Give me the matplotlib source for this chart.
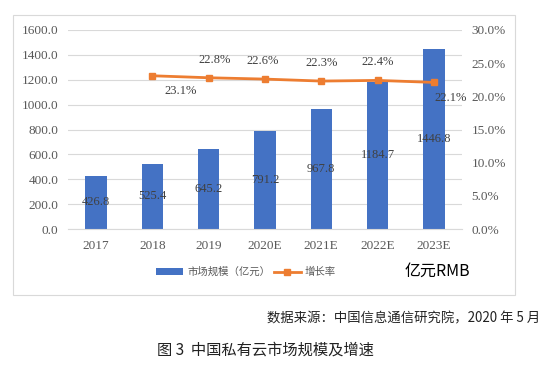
import matplotlib
matplotlib.use('Agg')
import matplotlib.pyplot as plt
from matplotlib.patches import Rectangle
from matplotlib.ticker import FuncFormatter, MultipleLocator

years = ['2017', '2018', '2019', '2020E', '2021E', '2022E', '2023E']
market = [426.8, 525.4, 645.2, 791.2, 967.8, 1184.7, 1446.8]
growth_years = ['2018', '2019', '2020E', '2021E', '2022E', '2023E']
growth = [23.1, 22.8, 22.6, 22.3, 22.4, 22.1]
# label offsets (points) for the growth-rate labels
growth_offsets = [(20, -11), (4, 13), (-2, 13), (0, 13), (0, 13), (12, -11)]

BLUE = '#4472C4'
ORANGE = '#ED7D31'
GREY = '#595959'
SERIF = 'Liberation Serif'
CJK = ['Noto Sans CJK SC', 'DejaVu Sans']

fig = plt.figure(figsize=(5.54, 3.74), dpi=100)
fig.patch.set_facecolor('white')

# chart frame
fig.patches.append(Rectangle((13 / 554, 1 - 295 / 374), (515 - 13) / 554, (295 - 15) / 374,
                             transform=fig.transFigure, fill=False,
                             edgecolor='#D9D9D9', linewidth=0.8))

ax = fig.add_axes([68 / 554, 1 - 229 / 374, (462 - 68) / 554, (229 - 30) / 374])
x = list(range(len(years)))
bars = ax.bar(x, market, width=0.38, color=BLUE, zorder=2, label='市场规模（亿元）')
ax.bar_label(bars, labels=[f'{v:.1f}' for v in market], label_type='center',
             fontsize=9, color='#404040', family=SERIF)

ax.set_xlim(-0.5, len(years) - 0.5)
ax.set_ylim(0, 1600)
ax.yaxis.set_major_locator(MultipleLocator(200))
ax.yaxis.set_major_formatter(FuncFormatter(lambda v, p: f'{v:.1f}'))
ax.set_xticks(x)
ax.set_xticklabels(years)
ax.grid(axis='y', color='#D9D9D9', linewidth=0.8, zorder=0)
for s in ['top', 'left', 'right']:
    ax.spines[s].set_visible(False)
ax.spines['bottom'].set_color('#D9D9D9')
ax.tick_params(length=0, colors=GREY, labelsize=9.5)
ax.tick_params(axis='y', pad=7)
ax.tick_params(axis='x', pad=8)
for t in ax.get_xticklabels() + ax.get_yticklabels():
    t.set_family(SERIF)

ax2 = ax.twinx()
gx = [years.index(y) for y in growth_years]
gval = [g / 100 for g in growth]
line, = ax2.plot(gx, gval, color=ORANGE, linewidth=2, marker='s', markersize=5,
                 zorder=3, label='增长率')
for xi, v, off in zip(gx, growth, growth_offsets):
    ax2.annotate(f'{v:.1f}%', (xi, v / 100), xytext=off, textcoords='offset points',
                 ha='center', va='center', fontsize=9, color='#404040', family=SERIF)
ax2.set_ylim(0, 0.30)
ax2.yaxis.set_major_locator(MultipleLocator(0.05))
ax2.yaxis.set_major_formatter(FuncFormatter(lambda v, p: f'{v * 100:.1f}%'))
for s in ['top', 'left', 'right', 'bottom']:
    ax2.spines[s].set_visible(False)
ax2.tick_params(length=0, colors=GREY, labelsize=9.5, pad=7)
for t in ax2.get_yticklabels():
    t.set_family(SERIF)

leg = fig.legend(handles=[bars, line], loc='center', bbox_to_anchor=(246 / 554, 1 - 272 / 374),
                 ncol=2, frameon=False, handlelength=2.6, handleheight=0.55,
                 columnspacing=0.3, handletextpad=0.4,
                 prop={'family': CJK, 'size': 7.5})
for t in leg.get_texts():
    t.set_color(GREY)

fig.text(405 / 554, 1 - 271 / 374, '亿元RMB', family=CJK, fontsize=11.5,
         color='black', ha='left', va='center')
fig.text(540 / 554, 1 - 318 / 374, '数据来源：中国信息通信研究院，2020 年 5 月',
         family=CJK, fontsize=9.6, color='#222222', ha='right', va='center')
fig.text(265 / 554, 1 - 350 / 374, '图 3  中国私有云市场规模及增速',
         family=CJK, fontsize=11, color='#222222', ha='center', va='center')

fig.savefig('out.png', dpi=100)
